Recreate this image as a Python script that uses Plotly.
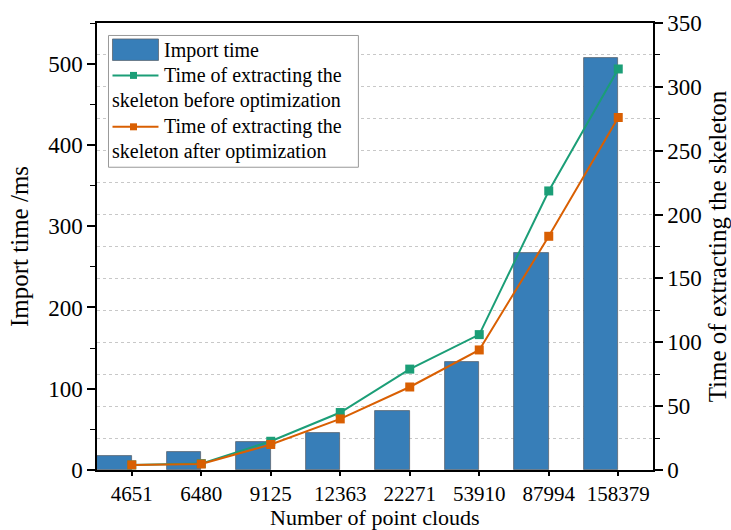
import plotly.graph_objects as go

categories = ["4651", "6480", "9125", "12363", "22271", "53910", "87994", "158379"]
import_time = [17, 22.5, 35, 45, 72, 133, 267, 507]
before_opt = [4, 5, 22.5, 45, 79, 106, 218.5, 314]
after_opt = [4, 4.7, 20, 40, 65, 94, 183, 276]

legend_labels = ["Import time",
                 "Time of extracting the<br>skeleton before optimization",
                 "Time of extracting the<br>skeleton after optimization"]
x_title = "Number of point clouds"
colors = ["#377eb8", "#1b9e77", "#d95f02"]

FONT = "Liberation Serif"
W, H = 731, 530
L, R, T, B = 96.5, 78.3, 22.5, 59.7
PW, PH = W - L - R, H - T - B


def px(x):
    return (x - L) / PW


def py(y):
    return 1 - (y - T) / PH


fig = go.Figure()
fig.add_trace(go.Bar(
    x=categories, y=import_time, name=legend_labels[0],
    marker=dict(color=colors[0], line=dict(color="#5a6470", width=0.8)),
    offset=-0.5, width=0.5, yaxis="y",
))
fig.add_trace(go.Scatter(
    x=categories, y=before_opt, yaxis="y2", mode="lines+markers",
    name=legend_labels[1],
    line=dict(color=colors[1], width=2),
    marker=dict(symbol="square", size=9, color=colors[1]),
))
fig.add_trace(go.Scatter(
    x=categories, y=after_opt, yaxis="y2", mode="lines+markers",
    name=legend_labels[2],
    line=dict(color=colors[2], width=2),
    marker=dict(symbol="square", size=9, color=colors[2]),
))

axis_common = dict(showline=True, linecolor="black", linewidth=1.5, automargin=False,
                   ticks="outside", tickwidth=1.5, tickcolor="black")

# custom legend (box, symbols, texts)
shapes = [
    dict(type="rect", xref="paper", yref="paper", x0=px(108), x1=px(358), y0=py(35), y1=py(167),
         fillcolor="white", line=dict(color="#999999", width=1), layer="above"),
    dict(type="rect", xref="paper", yref="paper", x0=px(112), x1=px(158), y0=py(38.5), y1=py(60),
         fillcolor=colors[0], line=dict(color="#5a6470", width=0.8), layer="above"),
]
annotations = []
for yl, c in [(75, colors[1]), (126.5, colors[2])]:
    shapes.append(dict(type="line", xref="paper", yref="paper", x0=px(112), x1=px(158),
                       y0=py(yl), y1=py(yl), line=dict(color=c, width=2), layer="above"))
    shapes.append(dict(type="rect", xref="paper", yref="paper", x0=px(129.5), x1=px(136.5),
                       y0=py(yl - 3.5), y1=py(yl + 3.5), fillcolor=c, line=dict(width=0),
                       layer="above"))

text_rows = [(162, 50, legend_labels[0]),
             (162, 75, legend_labels[1].split("<br>")[0]),
             (110, 100, legend_labels[1].split("<br>")[1]),
             (162, 126.5, legend_labels[2].split("<br>")[0]),
             (110, 151.5, legend_labels[2].split("<br>")[1])]
for x, y, t in text_rows:
    annotations.append(dict(xref="paper", yref="paper", x=px(x), y=py(y), text=t,
                            showarrow=False, xanchor="left", yanchor="middle",
                            font=dict(family=FONT, size=20, color="black")))

# x-axis title as annotation for exact placement
annotations.append(dict(xref="paper", yref="paper", x=0.5, y=py(531), text=x_title,
                        showarrow=False, xanchor="center", yanchor="bottom",
                        borderpad=0,
                        font=dict(family=FONT, size=22, color="black")))

fig.update_layout(
    width=W, height=H,
    margin=dict(l=L, r=R, t=T, b=B, autoexpand=False),
    paper_bgcolor="white", plot_bgcolor="white",
    font=dict(family=FONT, color="black"),
    showlegend=False,
    shapes=shapes, annotations=annotations,
    xaxis=dict(type="category", range=[-0.5, 7.5], mirror=True, ticklen=4,
               tickfont=dict(family=FONT, size=21, color="black"),
               showgrid=False, **axis_common),
    yaxis=dict(range=[0, 550], tickvals=[0, 100, 200, 300, 400, 500],
               showgrid=False, zeroline=False, ticklen=8,
               tickfont=dict(family=FONT, size=23, color="black"),
               minor=dict(tickvals=[50, 150, 250, 350, 450, 550], ticks="outside",
                          ticklen=5, tickwidth=1.2, tickcolor="black", showgrid=False),
               title=dict(text="Import time /ms", standoff=12,
                          font=dict(family=FONT, size=25, color="black")),
               **axis_common),
    yaxis2=dict(range=[0, 350], overlaying="y", side="right", ticklen=8,
                tickvals=[0, 50, 100, 150, 200, 250, 300, 350],
                tickfont=dict(family=FONT, size=23, color="black"),
                showgrid=True, gridcolor="#c8c8c8", griddash="3px,3px", gridwidth=0.8,
                zeroline=False,
                minor=dict(dtick=25, ticks="outside", ticklen=5, tickwidth=1.2,
                           tickcolor="black", showgrid=True, gridcolor="#c8c8c8",
                           griddash="3px,3px", gridwidth=0.8),
                title=dict(text="Time of extracting the skeleton", standoff=8,
                           font=dict(family=FONT, size=25, color="black")),
                **axis_common),
    bargap=0,
)

fig.write_html("out.html")
